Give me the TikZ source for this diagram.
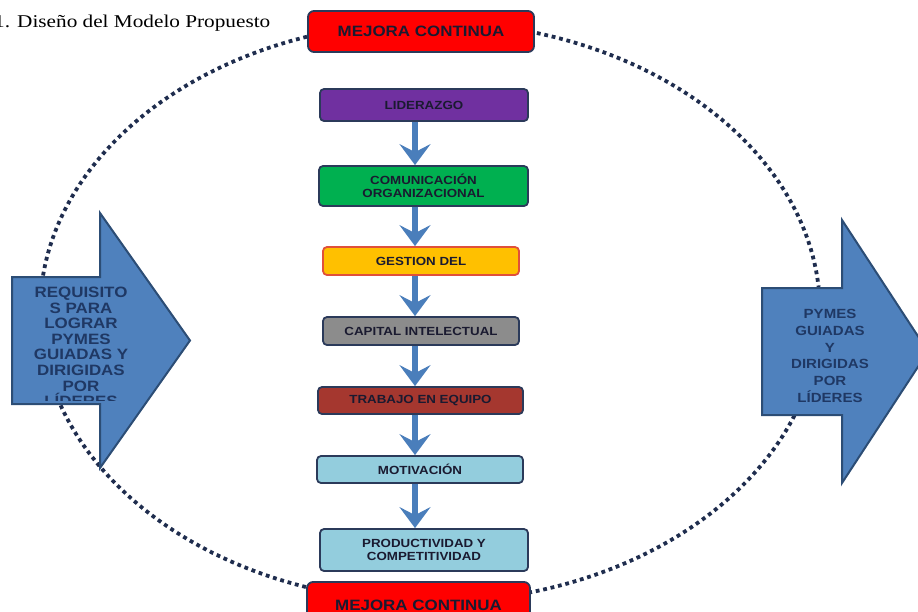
\documentclass[tikz,border=0pt]{standalone}
\usepackage{fontspec}
\setmainfont{Liberation Serif}
\newfontfamily\titlefont[FakeStretch=1.18]{Liberation Serif}
\newfontfamily\labelfont[FakeStretch=1.13]{Liberation Sans}
\usetikzlibrary{arrows.meta}

\definecolor{dotnavy}{HTML}{1F2D4E}
\definecolor{navyline}{HTML}{2B3A5A}
\definecolor{boxtext}{HTML}{1A1A30}
\definecolor{flowblue}{HTML}{4A7EBB}
\definecolor{arrowblue}{HTML}{4F81BD}
\definecolor{arrowedge}{HTML}{2C4D75}
\definecolor{arrowtext}{HTML}{1F3864}
\definecolor{mejorared}{HTML}{FF0000}
\definecolor{lidpurple}{HTML}{7030A0}
\definecolor{comgreen}{HTML}{00B050}
\definecolor{gesorange}{HTML}{FFC000}
\definecolor{gesedge}{HTML}{E0503A}
\definecolor{capgray}{HTML}{8C8C8C}
\definecolor{trared}{HTML}{A5372F}
\definecolor{lightteal}{HTML}{93CDDD}

\begin{document}
\begin{tikzpicture}[x=1pt,y=-1pt,
  loopline/.style={draw=dotnavy, line width=3.8pt, dash pattern=on 3.8pt off 3.8pt},
  stagebox/.style={draw=navyline, line width=1.8pt, rounded corners=4pt,
    inner sep=0pt, align=center, text=boxtext,
    font=\labelfont\bfseries\fontsize{11.8}{13}\selectfont},
  mejora/.style={stagebox, fill=mejorared, rounded corners=6pt,
    font=\labelfont\bfseries\fontsize{15}{17}\selectfont},
  flow/.style={draw=flowblue, line width=6.5pt,
    -{Stealth[length=21pt,width=31pt,inset=8pt]}},
  bigarrow/.style={fill=arrowblue, draw=arrowedge, line width=2pt, line join=miter},
  arrowlabel/.style={align=center, text=arrowtext, inner sep=0pt}
]
\useasboundingbox (0,0) rectangle (918,611);

% title
\node[anchor=base west, inner sep=0pt, text=black,
      font=\titlefont\fontsize{18}{20}\selectfont] (title) at (-6,27)
  {1. Diseño del Modelo Propuesto};

% continuous improvement loop
\draw[loopline] (430,312) ellipse [x radius=390pt, y radius=290pt];

% input arrow
\draw[bigarrow] (12,277) -- (100,277) -- (100,213) -- (190,340.5)
  -- (100,468) -- (100,404) -- (12,404) -- cycle;
\begin{scope}
  \clip (14,279) rectangle (190,400);
  \node[arrowlabel, font=\labelfont\bfseries\fontsize{15}{15.6}\selectfont]
    (req) at (81,347)
    {REQUISITO\\S PARA\\LOGRAR\\PYMES\\GUIADAS Y\\DIRIGIDAS\\POR\\LÍDERES};
\end{scope}

% output arrow
\draw[bigarrow] (762,288) -- (842,288) -- (842,220) -- (928,351.5)
  -- (842,483) -- (842,415) -- (762,415) -- cycle;
\node[arrowlabel, font=\labelfont\bfseries\fontsize{13.3}{16.8}\selectfont]
  (res) at (830,356) {PYMES\\GUIADAS\\Y\\DIRIGIDAS\\POR\\LÍDERES};

% improvement boxes
\node[mejora, minimum width=226pt, minimum height=41pt] (mtop) at (421,31.5)
  {MEJORA CONTINUA};
\node[mejora, minimum width=223pt, minimum height=46pt] (mbot) at (418.5,605)
  {MEJORA CONTINUA};

% stages
\node[stagebox, fill=lidpurple, minimum width=208pt, minimum height=32pt]
  (lid) at (424,105) {LIDERAZGO};
\node[stagebox, fill=comgreen, minimum width=209pt, minimum height=40pt]
  (com) at (423.5,186) {COMUNICACIÓN\\ORGANIZACIONAL};
\node[stagebox, fill=gesorange, draw=gesedge, minimum width=196pt, minimum height=28pt]
  (ges) at (421,261) {GESTION DEL};
\node[stagebox, fill=capgray, minimum width=196pt, minimum height=28pt]
  (cap) at (421,331) {CAPITAL INTELECTUAL};
\node[stagebox, fill=trared, minimum width=205pt, minimum height=27pt]
  (tra) at (420.5,400.5) {TRABAJO EN EQUIPO};
\node[stagebox, fill=lightteal, minimum width=206pt, minimum height=27pt]
  (mot) at (420,469.5) {MOTIVACIÓN};
\node[stagebox, fill=lightteal, minimum width=208pt, minimum height=42pt]
  (pro) at (424,550) {PRODUCTIVIDAD Y\\COMPETITIVIDAD};

% flow between stages
\coordinate (ax) at (415,0);
\draw[flow] (lid.south -| ax) -- (com.north -| ax);
\draw[flow] (com.south -| ax) -- (ges.north -| ax);
\draw[flow] (ges.south -| ax) -- (cap.north -| ax);
\draw[flow] (cap.south -| ax) -- (tra.north -| ax);
\draw[flow] (tra.south -| ax) -- (mot.north -| ax);
\draw[flow] (mot.south -| ax) -- (pro.north -| ax);
\end{tikzpicture}
\end{document}
